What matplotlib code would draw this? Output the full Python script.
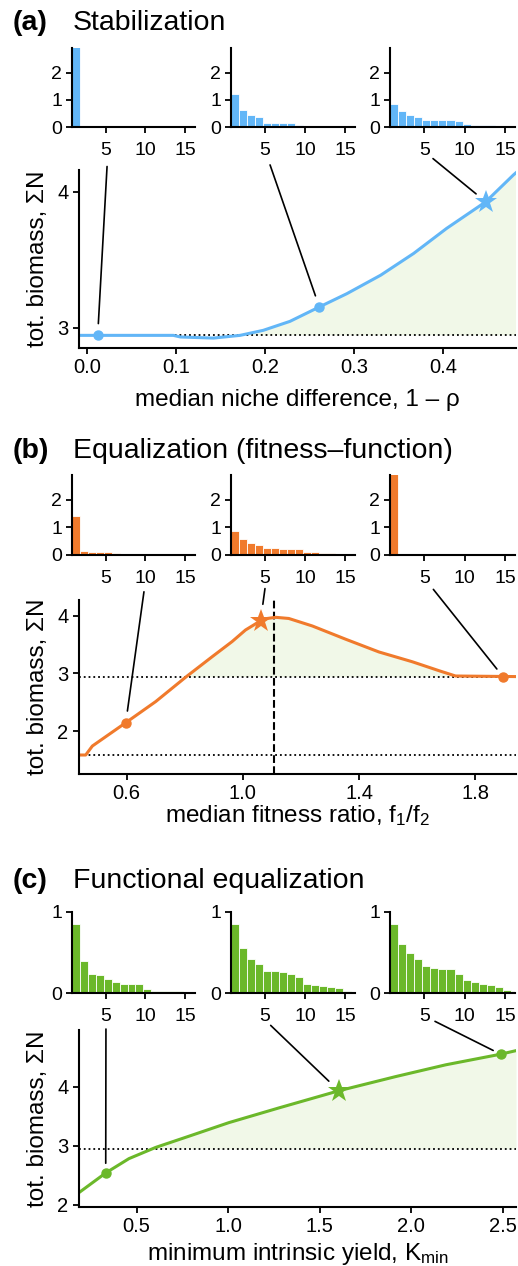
import numpy as np
import matplotlib.pyplot as plt

plt.rcParams['font.family'] = ['Liberation Sans', 'DejaVu Sans']
plt.rcParams['mathtext.fontset'] = 'custom'
plt.rcParams['mathtext.rm'] = 'Liberation Sans'
plt.rcParams['mathtext.default'] = 'regular'

W, H = 518, 1266

# colours
BLUE = '#62b6f7'
ORANGE = '#f07a2c'
GREEN = '#6bb82a'
FILL = '#f1f8e8'

# common reference level (dotted line)
base_biomass = 2.943

# ---------------- (a) Stabilization ----------------
stab_x = [-0.009, 0.097, 0.105, 0.142, 0.172, 0.198, 0.228, 0.261, 0.292,
          0.330, 0.367, 0.404, 0.448, 0.479, 0.482]
stab_y = [2.943, 2.943, 2.931, 2.923, 2.943, 2.98, 3.046, 3.152, 3.25,
          3.386, 3.546, 3.73, 3.926, 4.123, 4.14]
stab_pick_x = [0.012, 0.261, 0.448]
stab_pick_y = [2.943, 3.152, 3.926]
stab_hists = [
    [2.94, 0, 0, 0, 0, 0, 0, 0, 0, 0, 0, 0, 0, 0, 0, 0],
    [1.2, 0.62, 0.43, 0.38, 0.14, 0.14, 0.13, 0.13, 0.09, 0, 0, 0, 0, 0, 0, 0],
    [0.86, 0.57, 0.43, 0.36, 0.27, 0.27, 0.27, 0.25, 0.21, 0.12, 0.09, 0.09,
     0.09, 0.05, 0.02, 0],
]

# ---------------- (b) Equalization ----------------
equal_x = [0.436, 0.459, 0.482, 0.597, 0.700, 0.805, 0.895, 0.963, 1.009,
           1.061, 1.084, 1.113, 1.158, 1.239, 1.354, 1.468, 1.583, 1.675,
           1.732, 1.940]
equal_y = [1.584, 1.584, 1.74, 2.144, 2.51, 2.94, 3.29, 3.55, 3.75,
           3.91, 3.95, 3.97, 3.95, 3.82, 3.59, 3.37, 3.20, 3.045,
           2.953, 2.943]
equal_pick_x = [0.597, 1.061, 1.895]
equal_pick_y = [2.144, 3.91, 2.943]
equal_low = 1.584
equal_opt = 1.107
equal_hists = [
    [1.42, 0.15, 0.11, 0.11, 0.11, 0.07, 0.04, 0.04, 0, 0, 0, 0, 0, 0, 0, 0],
    [0.86, 0.58, 0.42, 0.37, 0.27, 0.27, 0.23, 0.23, 0.2, 0.11, 0.11, 0.07,
     0.07, 0.04, 0.04, 0],
    [2.94, 0, 0, 0, 0, 0, 0, 0, 0, 0, 0, 0, 0, 0, 0, 0],
]

# ---------------- (c) Functional equalization ----------------
func_x = [0.185, 0.331, 0.458, 0.604, 0.786, 1.004, 1.278, 1.605, 1.915,
          2.189, 2.489, 2.573]
func_y = [2.204, 2.537, 2.78, 2.97, 3.16, 3.39, 3.64, 3.93, 4.17,
          4.37, 4.55, 4.61]
func_pick_x = [0.331, 1.605, 2.489]
func_pick_y = [2.537, 3.93, 4.55]
func_hists = [
    [0.85, 0.40, 0.24, 0.22, 0.17, 0.14, 0.11, 0.11, 0.11, 0.05, 0.03, 0.03,
     0.02, 0.02, 0, 0],
    [0.85, 0.55, 0.42, 0.36, 0.27, 0.27, 0.26, 0.24, 0.2, 0.11, 0.10, 0.09,
     0.08, 0.065, 0.025, 0],
    [0.85, 0.60, 0.49, 0.42, 0.33, 0.31, 0.30, 0.30, 0.24, 0.155, 0.14, 0.11,
     0.10, 0.08, 0.04, 0.02],
]
rank = np.arange(1, 17)


def px_box(x0, y0, x1, y1):
    """pixel box (y from top) -> figure fraction rect"""
    return [x0 / W, 1 - y1 / H, (x1 - x0) / W, (y1 - y0) / H]


def style_axes(ax, size):
    for side in ['top', 'right']:
        ax.spines[side].set_visible(False)
    for side in ['left', 'bottom']:
        ax.spines[side].set_linewidth(1.5)
    ax.tick_params(width=1.3, length=4, labelsize=size, direction='out')


def draw_hists(top, bottom, heights, color, yticks, ytop):
    axes = []
    for (x0, x1), h in zip([(72, 195), (231, 355), (390, 515)], heights):
        hx = fig.add_axes(px_box(x0, top, x1, bottom))
        hx.bar(rank - 0.25, h, width=1.0, align='edge', color=color,
               edgecolor='white', linewidth=0.6)
        hx.set_xlim(0.75, 16.25)
        hx.set_ylim(0, ytop)
        hx.set_xticks([5, 10, 15])
        hx.set_yticks(yticks)
        style_axes(hx, 14)
        hx.tick_params(axis='x', pad=7)
        hx.tick_params(axis='y', pad=3)
        axes.append(hx)
    return axes


def connect(ax, hx, px, py, tx, ty, gap):
    ax.annotate('', xy=(px, py), xycoords='data', xytext=(tx, ty),
                textcoords=hx.transAxes, annotation_clip=False,
                arrowprops=dict(arrowstyle='-', color='black', lw=1.2,
                                shrinkA=0, shrinkB=gap))


def panel_title(y_base, letter, name):
    fig.text(13 / W, 1 - y_base / H, letter, fontsize=20.5,
             fontweight='bold', va='baseline')
    fig.text(73 / W, 1 - y_base / H, name, fontsize=20.5, va='baseline')


fig = plt.figure(figsize=(W / 100, H / 100), dpi=100)

# ================= panel (a) =================
panel_title(30, '(a)', 'Stabilization')
hs = draw_hists(48, 127, stab_hists, BLUE, [0, 1, 2], 2.9)
ax = fig.add_axes(px_box(79, 170, 516, 348))
sx, sy = np.array(stab_x), np.array(stab_y)
ax.fill_between(sx, base_biomass, sy, where=sy >= base_biomass,
                interpolate=True, color=FILL, lw=0)
ax.axhline(base_biomass, color='black', ls=':', lw=1.3)
ax.plot(sx, sy, color=BLUE, lw=2.2)
ax.plot(stab_pick_x[:2], stab_pick_y[:2], 'o', color=BLUE, ms=6.5)
ax.plot(stab_pick_x[2], stab_pick_y[2], '*', color=BLUE, ms=17, mew=0)
ax.set_xlim(-0.009, 0.482)
ax.set_ylim(2.85, 4.16)
ax.set_xticks([0.0, 0.1, 0.2, 0.3, 0.4])
ax.set_xticklabels(['0.0', '0.1', '0.2', '0.3', '0.4'])
ax.set_yticks([3, 4])
style_axes(ax, 14.5)
ax.set_xlabel('median niche difference, 1 – ρ', fontsize=17.5, labelpad=8)
ax.set_ylabel('tot. biomass, ΣN', fontsize=17.5, labelpad=6)
connect(ax, hs[0], stab_pick_x[0], stab_pick_y[0], 0.285, -0.50, 8.5)
connect(ax, hs[1], stab_pick_x[1], stab_pick_y[1], 0.315, -0.48, 8.5)
connect(ax, hs[2], stab_pick_x[2], stab_pick_y[2], 0.344, -0.40, 9)

# ================= panel (b) =================
panel_title(458, '(b)', 'Equalization (fitness–function)')
hs = draw_hists(475, 555, equal_hists, ORANGE, [0, 1, 2], 2.9)
ax = fig.add_axes(px_box(79, 600, 516, 774))
ex, ey = np.array(equal_x), np.array(equal_y)
ax.fill_between(ex, base_biomass, ey, where=ey >= base_biomass,
                interpolate=True, color=FILL, lw=0)
ax.axhline(base_biomass, color='black', ls=':', lw=1.3)
ax.axhline(equal_low, color='black', ls=':', lw=1.3)
ax.axvline(equal_opt, color='black', ls='--', lw=1.5)
ax.plot(ex, ey, color=ORANGE, lw=2.2)
ax.plot([equal_pick_x[0], equal_pick_x[2]], [equal_pick_y[0], equal_pick_y[2]],
        'o', color=ORANGE, ms=6.5)
ax.plot(equal_pick_x[1], equal_pick_y[1], '*', color=ORANGE, ms=17, mew=0)
ax.set_xlim(0.436, 1.94)
ax.set_ylim(1.255, 4.27)
ax.set_xticks([0.6, 1.0, 1.4, 1.8])
ax.set_xticklabels(['0.6', '1.0', '1.4', '1.8'])
ax.set_yticks([2, 3, 4])
style_axes(ax, 14.5)
ax.set_xlabel('median fitness ratio, f$_1$/f$_2$', fontsize=17.5, labelpad=0)
ax.set_ylabel('tot. biomass, ΣN', fontsize=17.5, labelpad=6)
connect(ax, hs[0], equal_pick_x[0], equal_pick_y[0], 0.585, -0.46, 8.5)
connect(ax, hs[1], equal_pick_x[1], equal_pick_y[1], 0.274, -0.42, 12)
connect(ax, hs[2], equal_pick_x[2], equal_pick_y[2], 0.347, -0.43, 7)

# ================= panel (c) =================
panel_title(888, '(c)', 'Functional equalization')
hs = draw_hists(912, 993, func_hists, GREEN, [0, 1], 1.0)
ax = fig.add_axes(px_box(79, 1030, 516, 1207))
fx, fy = np.array(func_x), np.array(func_y)
ax.fill_between(fx, base_biomass, fy, where=fy >= base_biomass,
                interpolate=True, color=FILL, lw=0)
ax.axhline(base_biomass, color='black', ls=':', lw=1.3)
ax.plot(fx, fy, color=GREEN, lw=2.2)
ax.plot([func_pick_x[0], func_pick_x[2]], [func_pick_y[0], func_pick_y[2]],
        'o', color=GREEN, ms=6.5)
ax.plot(func_pick_x[1], func_pick_y[1], '*', color=GREEN, ms=17, mew=0)
ax.set_xlim(0.185, 2.573)
ax.set_ylim(1.96, 4.96)
ax.set_xticks([0.5, 1.0, 1.5, 2.0, 2.5])
ax.set_xticklabels(['0.5', '1.0', '1.5', '2.0', '2.5'])
ax.set_yticks([2, 3, 4])
style_axes(ax, 14.5)
ax.set_xlabel(r'minimum intrinsic yield, K$_{min}$', fontsize=17.5, labelpad=3)
ax.set_ylabel('tot. biomass, ΣN', fontsize=17.5, labelpad=6)
connect(ax, hs[0], func_pick_x[0], func_pick_y[0], 0.276, -0.445, 7)
connect(ax, hs[1], func_pick_x[1], func_pick_y[1], 0.32, -0.40, 10)
connect(ax, hs[2], func_pick_x[2], func_pick_y[2], 0.36, -0.35, 6)

fig.savefig('out.png', dpi=100)
